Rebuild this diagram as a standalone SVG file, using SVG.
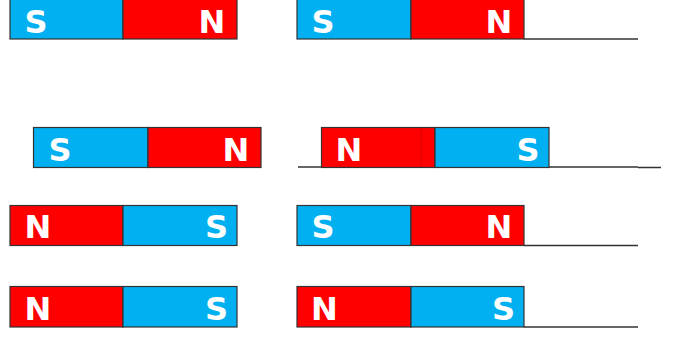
<svg xmlns="http://www.w3.org/2000/svg" width="676" height="338" viewBox="0 0 676 338">
<style>
.s{fill:#00B0F0;stroke:#333;stroke-width:1.2}
.n{fill:#FF0000;stroke:#333;stroke-width:1.2}
.t{font-family:"DejaVu Sans",Verdana,sans-serif;font-weight:bold;font-size:32px;fill:#fff;text-anchor:middle}
.ln{stroke:#333;stroke-width:1.5;fill:none}
</style>
<rect width="676" height="338" fill="#fff"/>
<g id="connectors">
<line class="ln" x1="524" y1="39" x2="638" y2="39"/>
<line class="ln" x1="298" y1="167" x2="638" y2="167"/>
<line class="ln" x1="638" y1="167.5" x2="661" y2="167.5" stroke-width="1"/>
<line class="ln" x1="524" y1="245.5" x2="638" y2="245.5"/>
<line class="ln" x1="524" y1="327" x2="638" y2="327"/>
</g>
<g id="m1">
<rect class="s" x="10" y="-2" width="113" height="41"/>
<rect class="n" x="123" y="-2" width="114" height="41"/>
<text class="t" x="36" y="33">S</text>
<text class="t" x="212" y="33">N</text>
</g>
<g id="m2">
<rect class="s" x="297" y="-2" width="114" height="41"/>
<rect class="n" x="411" y="-2" width="113" height="41"/>
<text class="t" x="323" y="33">S</text>
<text class="t" x="499" y="33">N</text>
</g>
<g id="m3">
<rect class="s" x="33.5" y="127.5" width="114.5" height="40"/>
<rect class="n" x="148" y="127.5" width="113" height="40"/>
<text class="t" x="60" y="161">S</text>
<text class="t" x="236" y="161">N</text>
</g>
<g id="m4">
<rect class="n" x="321.5" y="127.5" width="113.5" height="40"/>
<line x1="421" y1="128" x2="421" y2="167" stroke="#e00000" stroke-width="1"/>
<rect class="s" x="435" y="127.5" width="114" height="40"/>
<text class="t" x="349" y="161">N</text>
<text class="t" x="528" y="161">S</text>
</g>
<g id="m5">
<rect class="n" x="10" y="205.5" width="113" height="40"/>
<rect class="s" x="123" y="205.5" width="114" height="40"/>
<text class="t" x="38" y="238">N</text>
<text class="t" x="216.5" y="238">S</text>
</g>
<g id="m6">
<rect class="s" x="297" y="205.5" width="114" height="40"/>
<rect class="n" x="411" y="205.5" width="113" height="40"/>
<text class="t" x="323" y="238">S</text>
<text class="t" x="499" y="238">N</text>
</g>
<g id="m7">
<rect class="n" x="10" y="286.5" width="113" height="40.5"/>
<rect class="s" x="123" y="286.5" width="114" height="40.5"/>
<text class="t" x="38" y="320">N</text>
<text class="t" x="216.5" y="320">S</text>
</g>
<g id="m8">
<rect class="n" x="297" y="286.5" width="114" height="40.5"/>
<rect class="s" x="411" y="286.5" width="113" height="40.5"/>
<text class="t" x="324.5" y="320">N</text>
<text class="t" x="503.5" y="320">S</text>
</g>
</svg>
